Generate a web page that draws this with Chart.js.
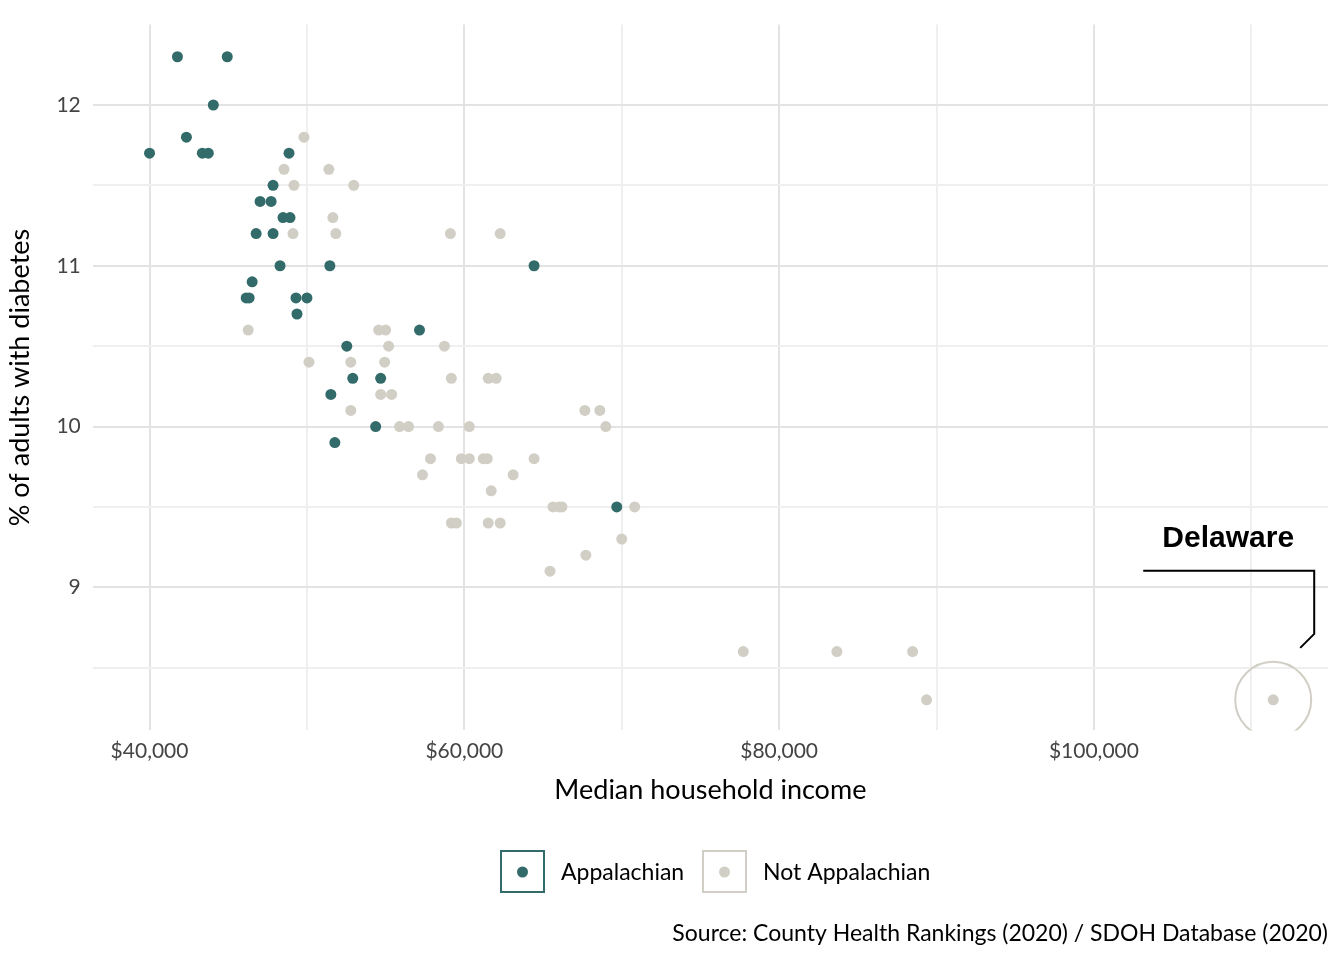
<!DOCTYPE html>
<html><head><meta charset="utf-8">
<script src="https://cdn.jsdelivr.net/npm/chart.js@4/dist/chart.umd.min.js"></script>
<style>html,body{margin:0;padding:0;background:#fff}#wrap{width:1344px;height:960px}</style>
</head><body><div id="wrap"><canvas id="c" width="1344" height="960"></canvas></div>
<script>
// 애팔래치아 카운티 (소득, 당뇨 %)
const appIncome = [41772,44937,44051,40000,42342,43354,43734,48861,47848,47025,47722,48481,48924,46772,47848,48291,51456,64430,46519,46139,46329,49304,50000,49367,57152,52532,52911,54684,51519,54367,51772,69684];
const appDiab   = [12.3,12.3,12.0,11.7,11.8,11.7,11.7,11.7,11.5,11.4,11.4,11.3,11.3,11.2,11.2,11.0,11.0,11.0,10.9,10.8,10.8,10.8,10.8,10.7,10.6,10.5,10.3,10.3,10.2,10.0,9.9,9.5];
// 비애팔래치아
const notIncome = [49810,48544,51392,49177,52975,51646,49114,51835,59114,62278,46266,54557,55000,58734,55190,50127,52785,54937,59177,61519,62025,54684,55380,52785,67658,68608,55886,56456,58354,60316,68987,57848,59810,60316,61203,61456,64430,57342,63101,61709,65633,66013,66203,70823,59177,59494,61519,62278,69998,67722,65443,77722,83671,88481,89367,111392];
const notDiab   = [11.8,11.6,11.6,11.5,11.5,11.3,11.2,11.2,11.2,11.2,10.6,10.6,10.6,10.5,10.5,10.4,10.4,10.4,10.3,10.3,10.3,10.2,10.2,10.1,10.1,10.1,10.0,10.0,10.0,10.0,10.0,9.8,9.8,9.8,9.8,9.8,9.8,9.7,9.7,9.6,9.5,9.5,9.5,9.5,9.4,9.4,9.4,9.4,9.3,9.2,9.1,8.6,8.6,8.6,8.3,8.3];
const xTicks = [40000,50000,60000,70000,80000,90000,100000,110000];
const yTicks = [8.5,9,9.5,10,10.5,11,11.5,12];
const highlight = {x: 111392, y: 8.3, label: 'Delaware'};

const TEAL = '#336b6b', GRAY = '#d1cfc5';
const toPts = (xs, ys) => xs.map((x, i) => ({x, y: ys[i]}));

const annot = {
    id: 'annot',
    afterDatasetsDraw(chart) {
        const ctx = chart.ctx, a = chart.chartArea;
        const px = chart.scales.x.getPixelForValue(highlight.x);
        const py = chart.scales.y.getPixelForValue(highlight.y);
        ctx.save();
        ctx.beginPath(); ctx.rect(a.left, a.top, a.right - a.left, a.bottom - a.top); ctx.clip();
        ctx.beginPath(); ctx.arc(px, py, 38, 0, 2 * Math.PI);
        ctx.strokeStyle = GRAY; ctx.lineWidth = 2; ctx.stroke();
        ctx.restore();
        ctx.save();
        ctx.strokeStyle = '#000'; ctx.lineWidth = 2;
        ctx.beginPath();
        ctx.moveTo(px - 130, py - 129); ctx.lineTo(px + 41, py - 129);
        ctx.lineTo(px + 41, py - 66); ctx.lineTo(px + 27, py - 52);
        ctx.stroke();
        ctx.font = 'bold 30px "Liberation Sans", Arial';
        ctx.fillStyle = '#000'; ctx.textAlign = 'center'; ctx.textBaseline = 'middle';
        ctx.fillText(highlight.label, px - 45, py - 161);
        ctx.restore();
    },
    afterDraw(chart) {
        const ctx = chart.ctx;
        ctx.save();
        ctx.font = '23px Lato'; ctx.textBaseline = 'middle';
        const items = [[501, TEAL, 'Appalachian'], [703, GRAY, 'Not Appalachian']];
        items.forEach(([x, c, t]) => {
            ctx.strokeStyle = c; ctx.lineWidth = 2;
            ctx.strokeRect(x, 851, 43, 41);
            ctx.beginPath(); ctx.arc(x + 21.5, 872, 5.5, 0, 2 * Math.PI);
            ctx.fillStyle = c; ctx.fill();
            ctx.fillStyle = '#000'; ctx.fillText(t, x + 60, 873);
        });
        ctx.font = '23px Lato'; ctx.textAlign = 'right';
        ctx.fillText('Source: County Health Rankings (2020) / SDOH Database (2020)', 1328, 934);
        ctx.restore();
    }
};

const setTicks = list => axis => { axis.ticks = list.map(v => ({value: v})); };

new Chart(document.getElementById('c'), {
    type: 'scatter',
    data: { datasets: [
        { label: 'Not Appalachian', data: toPts(notIncome, notDiab), backgroundColor: GRAY, borderWidth: 0, pointRadius: 5.5 },
        { label: 'Appalachian', data: toPts(appIncome, appDiab), backgroundColor: TEAL, borderWidth: 0, pointRadius: 5.5 }
    ]},
    options: {
        responsive: false, animation: false,
        layout: { padding: { top: 7, right: 16, bottom: 150, left: 0 } },
        plugins: { legend: { display: false }, tooltip: { enabled: false } },
        scales: {
            x: {
                min: 36392, max: 114873,
                afterBuildTicks: setTicks(xTicks),
                border: { display: false },
                grid: { color: c => c.tick && c.tick.value % 20000 === 0 ? '#e3e3e3' : '#efefef', lineWidth: 2, drawTicks: false },
                ticks: { autoSkip: false, maxRotation: 0, color: '#444', font: { family: 'Lato', size: 21 }, padding: 8,
                    callback: v => v % 20000 === 0 ? '$' + v.toLocaleString('en-US') : '' },
                title: { display: true, text: 'Median household income', color: '#000', font: { family: 'Lato', size: 27 }, padding: { top: 2 } }
            },
            y: {
                min: 8.11, max: 12.5,
                afterBuildTicks: setTicks(yTicks),
                border: { display: false },
                grid: { color: c => c.tick && Number.isInteger(c.tick.value) ? '#e3e3e3' : '#efefef', lineWidth: 2, drawTicks: false },
                ticks: { autoSkip: false, color: '#444', font: { family: 'Lato', size: 21 }, padding: 12,
                    callback: v => Number.isInteger(v) ? String(v) : '' },
                title: { display: true, text: '% of adults with diabetes', color: '#000', font: { family: 'Lato', size: 27 }, padding: { bottom: 8 } }
            }
        }
    },
    plugins: [annot]
});
</script></body></html>
